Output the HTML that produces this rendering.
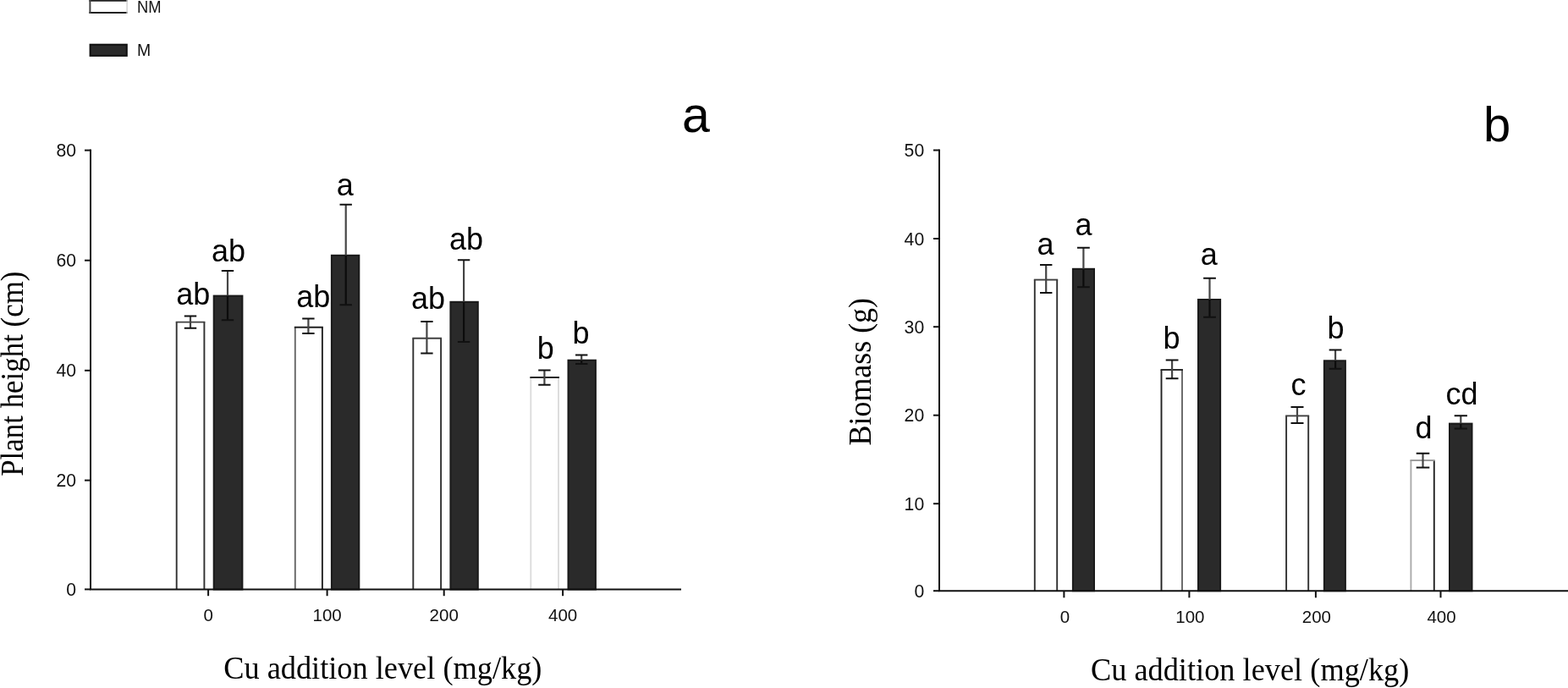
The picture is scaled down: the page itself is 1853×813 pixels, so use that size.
<!DOCTYPE html>
<html><head><meta charset="utf-8"><title>Plant height and biomass</title>
<style>html,body{margin:0;padding:0;background:#fff;width:1853px;height:813px;overflow:hidden}svg{display:block}</style>
</head><body>
<svg width="1853" height="813" viewBox="0 0 1853 813">
<rect width="1853" height="813" fill="#fff"/>
<rect x="106.4" y="0.8" width="43.7" height="14.1" fill="#fff"/>
<path d="M105.4 0.8H150.8M105.4 14.9H150.8" stroke="#222" stroke-width="2" fill="none"/>
<path d="M106.4 0V15.9" stroke="#444" stroke-width="2" fill="none"/>
<path d="M150.1 0V15.9" stroke="#ccc" stroke-width="1.3" fill="none"/>
<rect x="106.6" y="52.7" width="43.2" height="13.2" fill="#2a2a2a" stroke="#111" stroke-width="2"/>
<text x="161.9" y="14.9" font-size="21" textLength="28.6" lengthAdjust="spacingAndGlyphs" font-family="'Liberation Sans', Arial, sans-serif" fill="#111">NM</text>
<text x="161.9" y="66" font-size="21" textLength="16.2" lengthAdjust="spacingAndGlyphs" font-family="'Liberation Sans', Arial, sans-serif" fill="#111">M</text>
<path d="M208.7 696.5V380.6" stroke="#303030" stroke-width="1.9" fill="none"/>
<path d="M241.4 696.5V380.6" stroke="#303030" stroke-width="1.9" fill="none"/>
<path d="M207.75 380.6H242.35" stroke="#404040" stroke-width="1.9" fill="none"/>
<rect x="252.7" y="349.6" width="33.7" height="346.9" fill="#2a2a2a" stroke="#1a1a1a" stroke-width="2"/>
<path d="M348.8 696.5V386.8" stroke="#666" stroke-width="1.9" fill="none"/>
<path d="M380.9 696.5V386.8" stroke="#222" stroke-width="1.9" fill="none"/>
<path d="M347.85 386.8H381.85" stroke="#222" stroke-width="1.9" fill="none"/>
<rect x="391.9" y="301.8" width="32.4" height="394.7" fill="#2a2a2a" stroke="#1a1a1a" stroke-width="2"/>
<path d="M488.3 696.5V399.7" stroke="#303030" stroke-width="1.9" fill="none"/>
<path d="M521.1 696.5V399.7" stroke="#303030" stroke-width="1.9" fill="none"/>
<path d="M487.35 399.7H522.05" stroke="#404040" stroke-width="1.9" fill="none"/>
<rect x="532.4" y="356.8" width="32.4" height="339.7" fill="#2a2a2a" stroke="#1a1a1a" stroke-width="2"/>
<path d="M627.3 696.5V446" stroke="#dcdcdc" stroke-width="1.9" fill="none"/>
<path d="M660 696.5V446" stroke="#dcdcdc" stroke-width="1.9" fill="none"/>
<path d="M626.35 446H660.95" stroke="#222" stroke-width="1.9" fill="none"/>
<rect x="671.5" y="425.7" width="32.4" height="270.8" fill="#2a2a2a" stroke="#1a1a1a" stroke-width="2"/>
<path d="M225 373.4V387.7" stroke="#454545" stroke-width="2.2" fill="none"/>
<path d="M217.8 373.4H232.2M217.8 387.7H232.2" stroke="#111" stroke-width="2" fill="none"/>
<path d="M269 320.1V349.6" stroke="#454545" stroke-width="2.2" fill="none"/>
<path d="M269 349.6V378.2" stroke="#0c0c0c" stroke-width="2.2" fill="none"/>
<path d="M261.8 320.1H276.2M261.8 378.2H276.2" stroke="#111" stroke-width="2" fill="none"/>
<path d="M364.4 376.6V394.1" stroke="#454545" stroke-width="2.2" fill="none"/>
<path d="M357.2 376.6H371.6M357.2 394.1H371.6" stroke="#111" stroke-width="2" fill="none"/>
<path d="M408.7 241.8V301.8" stroke="#454545" stroke-width="2.2" fill="none"/>
<path d="M408.7 301.8V360.2" stroke="#0c0c0c" stroke-width="2.2" fill="none"/>
<path d="M401.5 241.8H415.9M401.5 360.2H415.9" stroke="#111" stroke-width="2" fill="none"/>
<path d="M504.4 380V417.4" stroke="#454545" stroke-width="2.2" fill="none"/>
<path d="M497.2 380H511.6M497.2 417.4H511.6" stroke="#111" stroke-width="2" fill="none"/>
<path d="M548.1 307.2V356.8" stroke="#454545" stroke-width="2.2" fill="none"/>
<path d="M548.1 356.8V404" stroke="#0c0c0c" stroke-width="2.2" fill="none"/>
<path d="M540.9 307.2H555.3M540.9 404H555.3" stroke="#111" stroke-width="2" fill="none"/>
<path d="M643.4 437.6V454.8" stroke="#454545" stroke-width="2.2" fill="none"/>
<path d="M636.2 437.6H650.6M636.2 454.8H650.6" stroke="#111" stroke-width="2" fill="none"/>
<path d="M687.2 419.5V425.7" stroke="#454545" stroke-width="2.2" fill="none"/>
<path d="M687.2 425.7V429.9" stroke="#0c0c0c" stroke-width="2.2" fill="none"/>
<path d="M680 419.5H694.4M680 429.9H694.4" stroke="#111" stroke-width="2" fill="none"/>
<path d="M107 176.6V696.5H805" stroke="#111" stroke-width="2" fill="none"/>
<line x1="100" y1="177.6" x2="107" y2="177.6" stroke="#111" stroke-width="2"/>
<line x1="100" y1="307.7" x2="107" y2="307.7" stroke="#111" stroke-width="2"/>
<line x1="100" y1="437.8" x2="107" y2="437.8" stroke="#111" stroke-width="2"/>
<line x1="100" y1="567.6" x2="107" y2="567.6" stroke="#111" stroke-width="2"/>
<line x1="100" y1="696.4" x2="107" y2="696.4" stroke="#111" stroke-width="2"/>
<line x1="246.1" y1="696.5" x2="246.1" y2="704.2" stroke="#111" stroke-width="2"/>
<line x1="386.6" y1="696.5" x2="386.6" y2="704.2" stroke="#111" stroke-width="2"/>
<line x1="524.7" y1="696.5" x2="524.7" y2="704.2" stroke="#111" stroke-width="2"/>
<line x1="665.1" y1="696.5" x2="665.1" y2="704.2" stroke="#111" stroke-width="2"/>
<text x="90" y="185.1" font-size="21.2" text-anchor="end" font-family="'Liberation Sans', Arial, sans-serif" fill="#111">80</text>
<text x="90" y="315.2" font-size="21.2" text-anchor="end" font-family="'Liberation Sans', Arial, sans-serif" fill="#111">60</text>
<text x="90" y="445.3" font-size="21.2" text-anchor="end" font-family="'Liberation Sans', Arial, sans-serif" fill="#111">40</text>
<text x="90" y="575.1" font-size="21.2" text-anchor="end" font-family="'Liberation Sans', Arial, sans-serif" fill="#111">20</text>
<text x="90" y="703.9" font-size="21.2" text-anchor="end" font-family="'Liberation Sans', Arial, sans-serif" fill="#111">0</text>
<text x="246.1" y="734.3" font-size="20.5" text-anchor="middle" font-family="'Liberation Sans', Arial, sans-serif" fill="#111">0</text>
<text x="386.6" y="734.3" font-size="20.5" text-anchor="middle" font-family="'Liberation Sans', Arial, sans-serif" fill="#111">100</text>
<text x="524.7" y="734.3" font-size="20.5" text-anchor="middle" font-family="'Liberation Sans', Arial, sans-serif" fill="#111">200</text>
<text x="665.1" y="734.3" font-size="20.5" text-anchor="middle" font-family="'Liberation Sans', Arial, sans-serif" fill="#111">400</text>
<text x="228.3" y="360.4" font-size="36" text-anchor="middle" font-family="'Liberation Sans', Arial, sans-serif" fill="#000">ab</text>
<text x="270" y="308.6" font-size="36" text-anchor="middle" font-family="'Liberation Sans', Arial, sans-serif" fill="#000">ab</text>
<text x="370.2" y="362.7" font-size="36" text-anchor="middle" font-family="'Liberation Sans', Arial, sans-serif" fill="#000">ab</text>
<text x="407.7" y="231" font-size="36" text-anchor="middle" font-family="'Liberation Sans', Arial, sans-serif" fill="#000">a</text>
<text x="505.9" y="365.2" font-size="36" text-anchor="middle" font-family="'Liberation Sans', Arial, sans-serif" fill="#000">ab</text>
<text x="551.1" y="295.4" font-size="36" text-anchor="middle" font-family="'Liberation Sans', Arial, sans-serif" fill="#000">ab</text>
<text x="644.7" y="424.1" font-size="36" text-anchor="middle" font-family="'Liberation Sans', Arial, sans-serif" fill="#000">b</text>
<text x="686.5" y="406.3" font-size="36" text-anchor="middle" font-family="'Liberation Sans', Arial, sans-serif" fill="#000">b</text>
<text transform="translate(27 562.8) rotate(-90)" font-size="38" textLength="242.2" lengthAdjust="spacingAndGlyphs" font-family="'Liberation Serif', 'Times New Roman', serif" fill="#000">Plant height (cm)</text>
<text x="264.2" y="801.6" font-size="38" textLength="376.2" lengthAdjust="spacingAndGlyphs" font-family="'Liberation Serif', 'Times New Roman', serif" fill="#000">Cu addition level (mg/kg)</text>
<text x="806" y="156" font-size="59" font-family="'Liberation Sans', Arial, sans-serif" fill="#000">a</text>
<path d="M1222.8 698.2V330.6" stroke="#303030" stroke-width="1.9" fill="none"/>
<path d="M1249.2 698.2V330.6" stroke="#303030" stroke-width="1.9" fill="none"/>
<path d="M1221.85 330.6H1250.15" stroke="#404040" stroke-width="1.9" fill="none"/>
<rect x="1267.9" y="317.8" width="25.1" height="380.4" fill="#2a2a2a" stroke="#1a1a1a" stroke-width="2"/>
<path d="M1372.5 698.2V437" stroke="#222" stroke-width="1.9" fill="none"/>
<path d="M1397 698.2V437" stroke="#666" stroke-width="1.9" fill="none"/>
<path d="M1371.55 437H1397.95" stroke="#222" stroke-width="1.9" fill="none"/>
<rect x="1416" y="354" width="26.1" height="344.2" fill="#2a2a2a" stroke="#1a1a1a" stroke-width="2"/>
<path d="M1520.1 698.2V491.4" stroke="#303030" stroke-width="1.9" fill="none"/>
<path d="M1546.2 698.2V491.4" stroke="#303030" stroke-width="1.9" fill="none"/>
<path d="M1519.15 491.4H1547.15" stroke="#404040" stroke-width="1.9" fill="none"/>
<rect x="1564.9" y="426.3" width="25" height="271.9" fill="#2a2a2a" stroke="#1a1a1a" stroke-width="2"/>
<path d="M1667.4 698.2V544" stroke="#aaa" stroke-width="1.9" fill="none"/>
<path d="M1694.8 698.2V544" stroke="#222" stroke-width="1.9" fill="none"/>
<path d="M1666.45 544H1695.75" stroke="#999" stroke-width="1.9" fill="none"/>
<rect x="1713" y="500.6" width="26.5" height="197.6" fill="#2a2a2a" stroke="#1a1a1a" stroke-width="2"/>
<path d="M1236.2 313.1V346" stroke="#454545" stroke-width="2.2" fill="none"/>
<path d="M1229 313.1H1243.4M1229 346H1243.4" stroke="#111" stroke-width="2" fill="none"/>
<path d="M1280.4 292.8V317.8" stroke="#454545" stroke-width="2.2" fill="none"/>
<path d="M1280.4 317.8V339.3" stroke="#0c0c0c" stroke-width="2.2" fill="none"/>
<path d="M1273 292.8H1287.8M1273 339.3H1287.8" stroke="#111" stroke-width="2" fill="none"/>
<path d="M1385.1 425.5V447.3" stroke="#454545" stroke-width="2.2" fill="none"/>
<path d="M1377.7 425.5H1392.5M1377.7 447.3H1392.5" stroke="#111" stroke-width="2" fill="none"/>
<path d="M1429.5 328.7V354" stroke="#454545" stroke-width="2.2" fill="none"/>
<path d="M1429.5 354V374.7" stroke="#0c0c0c" stroke-width="2.2" fill="none"/>
<path d="M1422.1 328.7H1436.9M1422.1 374.7H1436.9" stroke="#111" stroke-width="2" fill="none"/>
<path d="M1533 481V500.1" stroke="#454545" stroke-width="2.2" fill="none"/>
<path d="M1525.5 481H1540.5M1525.5 500.1H1540.5" stroke="#111" stroke-width="2" fill="none"/>
<path d="M1578.1 413.5V426.3" stroke="#454545" stroke-width="2.2" fill="none"/>
<path d="M1578.1 426.3V435.7" stroke="#0c0c0c" stroke-width="2.2" fill="none"/>
<path d="M1570.7 413.5H1585.5M1570.7 435.7H1585.5" stroke="#111" stroke-width="2" fill="none"/>
<path d="M1681.5 535.8V552.5" stroke="#454545" stroke-width="2.2" fill="none"/>
<path d="M1673.7 535.8H1689.3M1673.7 552.5H1689.3" stroke="#111" stroke-width="2" fill="none"/>
<path d="M1726.3 491.2V500.6" stroke="#454545" stroke-width="2.2" fill="none"/>
<path d="M1726.3 500.6V506.5" stroke="#0c0c0c" stroke-width="2.2" fill="none"/>
<path d="M1718.7 491.2H1733.9M1718.7 506.5H1733.9" stroke="#111" stroke-width="2" fill="none"/>
<path d="M1110 176.5V698.2H1853" stroke="#111" stroke-width="2" fill="none"/>
<line x1="1103" y1="177.5" x2="1110" y2="177.5" stroke="#111" stroke-width="2"/>
<line x1="1103" y1="282" x2="1110" y2="282" stroke="#111" stroke-width="2"/>
<line x1="1103" y1="386.2" x2="1110" y2="386.2" stroke="#111" stroke-width="2"/>
<line x1="1103" y1="490.7" x2="1110" y2="490.7" stroke="#111" stroke-width="2"/>
<line x1="1103" y1="595.2" x2="1110" y2="595.2" stroke="#111" stroke-width="2"/>
<line x1="1103" y1="698.2" x2="1110" y2="698.2" stroke="#111" stroke-width="2"/>
<line x1="1257.4" y1="698.2" x2="1257.4" y2="706.3" stroke="#111" stroke-width="2"/>
<line x1="1405.4" y1="698.2" x2="1405.4" y2="706.3" stroke="#111" stroke-width="2"/>
<line x1="1554.9" y1="698.2" x2="1554.9" y2="706.3" stroke="#111" stroke-width="2"/>
<line x1="1702.5" y1="698.2" x2="1702.5" y2="706.3" stroke="#111" stroke-width="2"/>
<text x="1092.2" y="185" font-size="21.2" text-anchor="end" font-family="'Liberation Sans', Arial, sans-serif" fill="#111">50</text>
<text x="1092.2" y="289.5" font-size="21.2" text-anchor="end" font-family="'Liberation Sans', Arial, sans-serif" fill="#111">40</text>
<text x="1092.2" y="393.7" font-size="21.2" text-anchor="end" font-family="'Liberation Sans', Arial, sans-serif" fill="#111">30</text>
<text x="1092.2" y="498.2" font-size="21.2" text-anchor="end" font-family="'Liberation Sans', Arial, sans-serif" fill="#111">20</text>
<text x="1092.2" y="602.7" font-size="21.2" text-anchor="end" font-family="'Liberation Sans', Arial, sans-serif" fill="#111">10</text>
<text x="1092.2" y="705.7" font-size="21.2" text-anchor="end" font-family="'Liberation Sans', Arial, sans-serif" fill="#111">0</text>
<text x="1258.4" y="736.4" font-size="20.5" text-anchor="middle" font-family="'Liberation Sans', Arial, sans-serif" fill="#111">0</text>
<text x="1406.4" y="736.4" font-size="20.5" text-anchor="middle" font-family="'Liberation Sans', Arial, sans-serif" fill="#111">100</text>
<text x="1555.9" y="736.4" font-size="20.5" text-anchor="middle" font-family="'Liberation Sans', Arial, sans-serif" fill="#111">200</text>
<text x="1703.5" y="736.4" font-size="20.5" text-anchor="middle" font-family="'Liberation Sans', Arial, sans-serif" fill="#111">400</text>
<text x="1235.5" y="301.3" font-size="36" text-anchor="middle" font-family="'Liberation Sans', Arial, sans-serif" fill="#000">a</text>
<text x="1280.6" y="277.6" font-size="36" text-anchor="middle" font-family="'Liberation Sans', Arial, sans-serif" fill="#000">a</text>
<text x="1384.5" y="412.2" font-size="36" text-anchor="middle" font-family="'Liberation Sans', Arial, sans-serif" fill="#000">b</text>
<text x="1428.7" y="312.7" font-size="36" text-anchor="middle" font-family="'Liberation Sans', Arial, sans-serif" fill="#000">a</text>
<text x="1534.5" y="467.2" font-size="36" text-anchor="middle" font-family="'Liberation Sans', Arial, sans-serif" fill="#000">c</text>
<text x="1578.5" y="400.3" font-size="36" text-anchor="middle" font-family="'Liberation Sans', Arial, sans-serif" fill="#000">b</text>
<text x="1682.6" y="518.3" font-size="36" text-anchor="middle" font-family="'Liberation Sans', Arial, sans-serif" fill="#000">d</text>
<text x="1727.4" y="477.8" font-size="36" text-anchor="middle" font-family="'Liberation Sans', Arial, sans-serif" fill="#000">cd</text>
<text transform="translate(1029 526.4) rotate(-90)" font-size="38" textLength="174.4" lengthAdjust="spacingAndGlyphs" font-family="'Liberation Serif', 'Times New Roman', serif" fill="#000">Biomass (g)</text>
<text x="1288.9" y="804.2" font-size="38" textLength="376.5" lengthAdjust="spacingAndGlyphs" font-family="'Liberation Serif', 'Times New Roman', serif" fill="#000">Cu addition level (mg/kg)</text>
<text x="1753" y="166.5" font-size="58" font-family="'Liberation Sans', Arial, sans-serif" fill="#000">b</text>
</svg>
</body></html>
